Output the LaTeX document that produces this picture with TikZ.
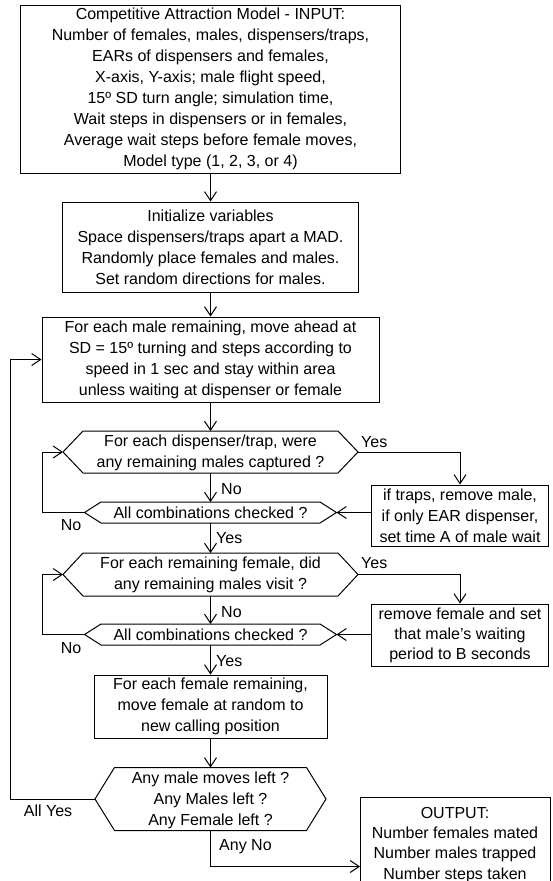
\documentclass[tikz,border=0pt]{standalone}
\usepackage{fontspec}
\setmainfont{Liberation Sans}
\usetikzlibrary{arrows.meta,calc}
\tikzset{
  base/.style={font=\fontsize{16}{21}\selectfont, align=center, inner sep=0pt},
  box/.style={base, draw, line width=1pt},
  lbl/.style={font=\fontsize{16}{19}\selectfont, inner sep=0pt},
  conn/.style={line width=1pt},
  arr/.style={conn, -{Straight Barb[length=9pt,width=12pt]}},
}
% name, cx, cy, half corner width, half point width, half height
\newcommand\hexa[6]{%
  \coordinate (#1L) at ({#2-#5},#3);
  \coordinate (#1R) at ({#2+#5},#3);
  \coordinate (#1T) at (#2,{#3-#6});
  \coordinate (#1B) at (#2,{#3+#6});
  \draw[conn] ({#2-#4},{#3-#6}) -- ({#2+#4},{#3-#6}) -- (#1R) -- ({#2+#4},{#3+#6}) -- ({#2-#4},{#3+#6}) -- (#1L) -- cycle;
}
\begin{document}
\begin{tikzpicture}[x=1pt,y=-1pt]
\useasboundingbox (0,0) rectangle (552,881);
\clip (0,0) rectangle (552,881);

\node[box, minimum width=380pt, minimum height=168pt] (in) at (210.5,89) {Competitive Attraction Model - INPUT:\\Number of females, males, dispensers/traps,\\EARs of dispensers and females,\\X-axis, Y-axis; male flight speed,\\15º SD turn angle; simulation time,\\Wait steps in dispensers or in females,\\Average wait steps before female moves,\\Model type (1, 2, 3, or 4)};

\node[box, minimum width=296pt, minimum height=90pt] (init) at (210.5,247) {Initialize variables\\Space dispensers/traps apart a MAD.\\Randomly place females and males.\\Set random directions for males.};

\node[box, minimum width=337pt, minimum height=85pt] (move) at (210.5,359.5) {For each male remaining, move ahead at\\SD = 15º turning and steps according to\\speed in 1 sec and stay within area\\unless waiting at dispenser or female};

\hexa{d1}{210.5}{452}{127.5}{147.5}{21}
\node[base] (d1t) at (210.5,453) {For each dispenser/trap, were\\any remaining males captured ?};

\hexa{d2}{210.5}{512.5}{109.5}{126}{10.5}
\node[base] (d2t) at (210.5,512.5) {All combinations checked ?};

\node[box, minimum width=177pt, minimum height=61pt] (trap) at (460,515.5) {if traps, remove male,\\if only EAR dispenser,\\set time A of male wait};

\hexa{d3}{210.5}{574.5}{127.5}{147.5}{21.5}
\node[base] (d3t) at (210.5,575) {For each remaining female, did\\any remaining males visit ?};

\hexa{d4}{210.5}{634.5}{109.5}{126}{10.5}
\node[base] (d4t) at (210.5,634.5) {All combinations checked ?};

\node[box, font=\fontsize{16}{20}\selectfont, minimum width=177pt, minimum height=62pt] (remove) at (460,635) {remove female and set\\that male’s waiting\\period to B seconds};

\node[box, minimum width=233pt, minimum height=63pt] (female) at (210.5,706.5) {For each female remaining,\\move female at random to\\new calling position};

\hexa{d5}{210.5}{799}{96}{115.5}{31.5}
\node[base] (d5t) at (210.5,800.5) {Any male moves left ?\\Any Males left ?\\Any Female left ?};

\node[box, minimum width=190pt, minimum height=130pt, anchor=north] (out) at (455,797) {};
\node[base, font=\fontsize{16}{20.3}\selectfont, anchor=north] (outt) at (455,807) {OUTPUT:\\Number females mated\\Number males trapped\\Number steps taken};

% connectors
\draw[arr] (in.south) -- (init.north);
\draw[arr] (init.south) -- (move.north);
\draw[arr] (move.south) -- (d1T);
\draw[arr] (d1B) -- (d2T);
\draw[arr] (d2B) -- (d3T);
\draw[arr] (d3B) -- (d4T);
\draw[arr] (d4B) -- (female.north);
\draw[arr] (female.south) -- (d5T);

\draw[arr] (d1R) -| (trap.north);
\draw[arr] (trap.west |- d2R) -- (d2R);
\draw[arr] (d3R) -| (remove.north);
\draw[arr] (remove.west |- d4R) -- (d4R);

\coordinate (c2) at (42,512.5);
\draw[arr] (d2L) -- (c2) |- (d1L);
\coordinate (c4) at (42,634.5);
\draw[arr] (d4L) -- (c4) |- (d3L);

\coordinate (c5) at (10,799);
\draw[arr] (d5L) -- (c5) |- (move.west);

\coordinate (outin) at (360,866.5);
\draw[arr] (d5B) |- (outin);

% labels
\node[lbl, anchor=west] (y1) at (361,442) {Yes};
\node[lbl, anchor=west] (n1) at (221,489) {No};
\node[lbl] (n2) at (71,525) {No};
\node[lbl, anchor=west] (y2) at (216,538) {Yes};
\node[lbl, anchor=west] (y3) at (361,563) {Yes};
\node[lbl, anchor=west] (n3) at (221,612) {No};
\node[lbl] (n4) at (71,648) {No};
\node[lbl, anchor=west] (y4) at (216,661) {Yes};
\node[lbl] (ay) at (48,811) {All Yes};
\node[lbl, anchor=west] (an) at (219,847) {Any No};
\end{tikzpicture}
\end{document}
